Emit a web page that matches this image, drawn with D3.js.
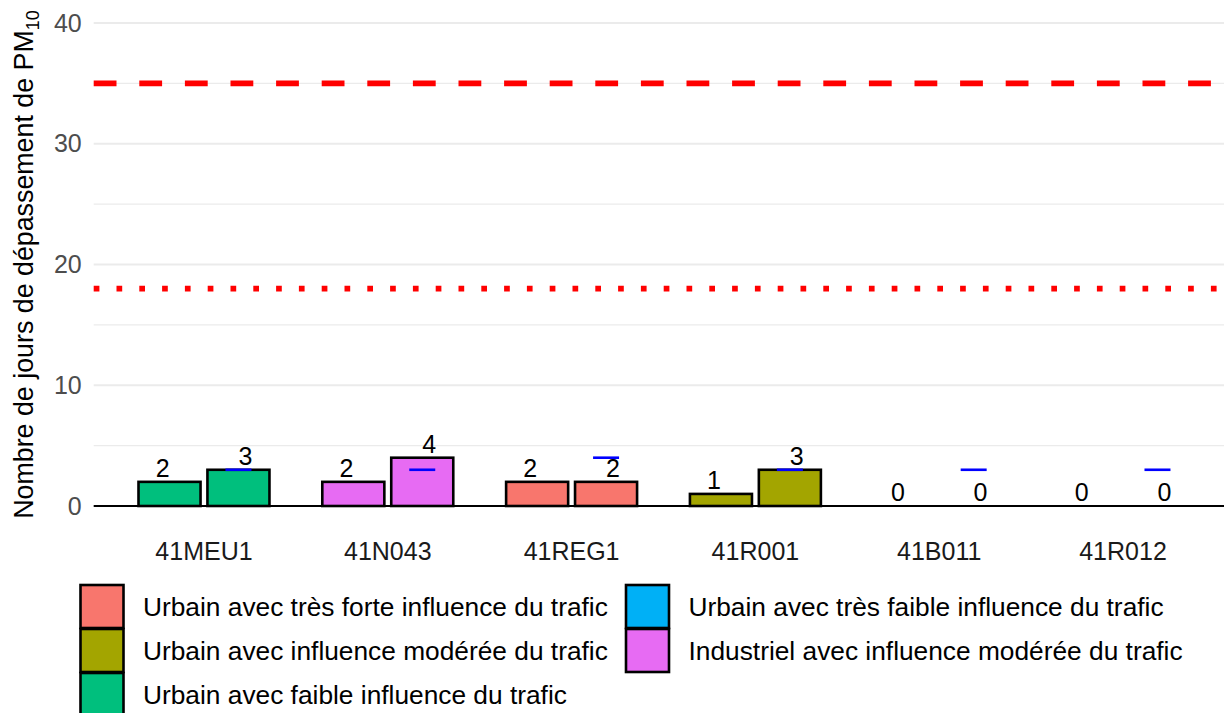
<!DOCTYPE html>
<html>
<head>
<meta charset="utf-8">
<script src="https://cdn.jsdelivr.net/npm/d3@7"></script>
<style>
  body { margin: 0; background: #fff; }
  svg { display: block; font-family: "Liberation Sans", Arial, sans-serif; }
</style>
</head>
<body>
<div id="chart"></div>
<script>
// stations and the two periods shown side by side
const stations = ['41MEU1', '41N043', '41REG1', '41R001', '41B011', '41R012']
const periods = ['p1', 'p2']
const valuesP1 = [2, 2, 2, 1, 0, 0]
const valuesP2 = [3, 4, 2, 3, 0, 0]
// reference marker (blue tick) drawn on the second bar
const markerValues = [3, 3, 4, 3, 3, 3]
const stationType = [
  'Urbain avec faible influence du trafic',
  'Industriel avec influence modérée du trafic',
  'Urbain avec très forte influence du trafic',
  'Urbain avec influence modérée du trafic',
  'Urbain avec très faible influence du trafic',
  'Urbain avec très faible influence du trafic'
]
const typeLevels = [
  'Urbain avec très forte influence du trafic',
  'Urbain avec influence modérée du trafic',
  'Urbain avec faible influence du trafic',
  'Urbain avec très faible influence du trafic',
  'Industriel avec influence modérée du trafic'
]
const typeColors = ['#F8766D', '#A3A500', '#00BF7D', '#00B0F6', '#E76BF3']
const yTicks = [0, 10, 20, 30, 40]
const yMinor = [5, 15, 25, 35]
const limitDashed = 35
const limitDotted = 18

const width = 1224
const height = 713

const svg = d3.select('#chart').append('svg')
  .attr('width', width)
  .attr('height', height)

// scales
const x = d3.scaleBand()
  .domain(stations)
  .range([93.7, 1233.3])
  .paddingInner(0)
  .paddingOuter(0.1)
const step = x.step()
const xSub = d3.scaleBand()
  .domain(periods)
  .range([-0.375 * step, 0.375 * step])
const xText = d3.scaleBand()
  .domain(periods)
  .range([-0.45 * step, 0.45 * step])
const y = d3.scaleLinear().domain([0, 40]).range([506, 23])
const color = d3.scaleOrdinal().domain(typeLevels).range(typeColors)

const left = x.range()[0]
const right = x.range()[1]

// grid
svg.append('g').selectAll('line').data(yMinor).join('line')
  .attr('x1', left).attr('x2', right)
  .attr('y1', d => y(d)).attr('y2', d => y(d))
  .attr('stroke', '#EBEBEB').attr('stroke-width', 1.1)
svg.append('g').selectAll('line').data(yTicks).join('line')
  .attr('x1', left).attr('x2', right)
  .attr('y1', d => y(d)).attr('y2', d => y(d))
  .attr('stroke', '#EBEBEB').attr('stroke-width', 2.2)

// y axis labels
const yAxis = svg.append('g')
  .attr('transform', `translate(${left - 12},0)`)
  .call(d3.axisLeft(y).tickValues(yTicks).tickSize(0).tickPadding(0))
yAxis.select('.domain').remove()
yAxis.selectAll('text')
  .attr('font-size', 25)
  .attr('fill', '#4D4D4D')
  .attr('font-family', '"Liberation Sans", Arial, sans-serif')

// y title with subscript
const yTitle = svg.append('text')
  .attr('transform', `translate(33,${(y(0) + y(40)) / 2}) rotate(-90)`)
  .attr('text-anchor', 'middle')
  .attr('font-size', 26.8)
  .attr('fill', '#000')
yTitle.append('tspan').text('Nombre de jours de dépassement de PM')
yTitle.append('tspan').attr('font-size', 18).attr('dy', 6).text('10')

// zero line
svg.append('line')
  .attr('x1', left).attr('x2', right)
  .attr('y1', y(0)).attr('y2', y(0))
  .attr('stroke', '#000').attr('stroke-width', 2)

// limit lines
svg.append('line')
  .attr('x1', left).attr('x2', right)
  .attr('y1', y(limitDashed)).attr('y2', y(limitDashed))
  .attr('stroke', '#FF0000').attr('stroke-width', 5.7)
  .attr('stroke-dasharray', '22.8,22.8')
svg.append('line')
  .attr('x1', left).attr('x2', right)
  .attr('y1', y(limitDotted)).attr('y2', y(limitDotted))
  .attr('stroke', '#FF0000').attr('stroke-width', 5.7)
  .attr('stroke-dasharray', '5.7,17.1')

// bar data
const bars = []
stations.forEach((s, i) => {
  bars.push({ station: s, period: 'p1', value: valuesP1[i], type: stationType[i] })
  bars.push({ station: s, period: 'p2', value: valuesP2[i], type: stationType[i] })
})
const barW = xSub.bandwidth() * 0.9

svg.append('g').selectAll('rect').data(bars).join('rect')
  .attr('x', d => x(d.station) + x.bandwidth() / 2 + xSub(d.period) + (xSub.bandwidth() - barW) / 2)
  .attr('width', barW)
  .attr('y', d => y(d.value))
  .attr('height', d => y(0) - y(d.value))
  .attr('fill', d => color(d.type))
  .attr('stroke', '#000')
  .attr('stroke-width', 2.6)

// value labels
svg.append('g').selectAll('text').data(bars).join('text')
  .attr('x', d => x(d.station) + x.bandwidth() / 2 + xText(d.period) + xText.bandwidth() / 2)
  .attr('y', d => y(d.value) - 5)
  .attr('text-anchor', 'middle')
  .attr('font-size', 25)
  .attr('fill', '#000')
  .text(d => d.value)

// blue markers on second bar
svg.append('g').selectAll('line').data(stations).join('line')
  .attr('x1', (d, i) => x(d) + x.bandwidth() / 2 + xSub('p2') + xSub.bandwidth() / 2 - 13)
  .attr('x2', (d, i) => x(d) + x.bandwidth() / 2 + xSub('p2') + xSub.bandwidth() / 2 + 13)
  .attr('y1', (d, i) => y(markerValues[i]))
  .attr('y2', (d, i) => y(markerValues[i]))
  .attr('stroke', '#0000FF')
  .attr('stroke-width', 2.6)

// x labels
svg.append('g').selectAll('text').data(stations).join('text')
  .attr('x', d => x(d) + x.bandwidth() / 2)
  .attr('y', 560)
  .attr('text-anchor', 'middle')
  .attr('font-size', 25)
  .attr('fill', '#1A1A1A')
  .text(d => d)

// legend, two columns filled by column
const legend = svg.append('g')
const keySize = 43
const colX = [80.5, 626]
const rowY = [585, 629, 673]
const item = legend.selectAll('g').data(typeLevels).join('g')
  .attr('transform', (d, i) => `translate(${colX[Math.floor(i / 3)]},${rowY[i % 3]})`)
item.append('rect')
  .attr('width', keySize).attr('height', keySize)
  .attr('fill', d => color(d))
  .attr('stroke', '#000').attr('stroke-width', 2.6)
item.append('text')
  .attr('x', 62.5)
  .attr('y', keySize / 2)
  .attr('dy', '0.36em')
  .attr('font-size', 26.3)
  .attr('fill', '#000')
  .text(d => d)
</script>
</body>
</html>
